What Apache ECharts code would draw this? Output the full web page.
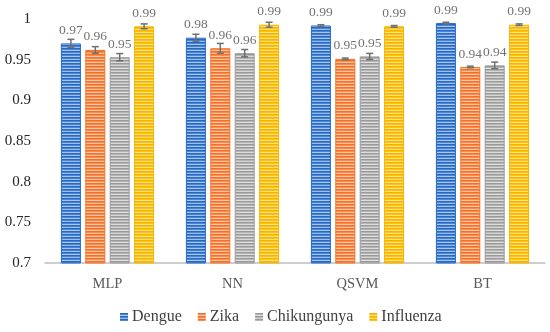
<!DOCTYPE html>
<html>
<head>
<meta charset="utf-8">
<script src="https://cdn.jsdelivr.net/npm/echarts@6/dist/echarts.min.js"></script>
<style>html,body{margin:0;padding:0;background:#fff}#c{width:550px;height:332px}</style>
</head>
<body>
<div id="c"></div>
<script>
var categories = ['MLP', 'NN', 'QSVM', 'BT'];
var seriesNames = ['Dengue', 'Zika', 'Chikungunya', 'Influenza'];
var dengue = [0.970, 0.977, 0.992, 0.995];
var zika = [0.962, 0.964, 0.951, 0.941];
var chikungunya = [0.953, 0.958, 0.954, 0.943];
var influenza = [0.991, 0.993, 0.991, 0.993];
var dengueErr = [0.005, 0.0043, 0.001, 0.001];
var zikaErr = [0.004, 0.006, 0.001, 0.001];
var chikungunyaErr = [0.0045, 0.0045, 0.0037, 0.004];
var influenzaErr = [0.003, 0.003, 0.001, 0.001];
var yTicks = [0.7, 0.75, 0.8, 0.85, 0.9, 0.95, 1];

var values = [dengue, zika, chikungunya, influenza];
var errors = [dengueErr, zikaErr, chikungunyaErr, influenzaErr];
var baseColors = ['#4a86d4', '#f88d4f', '#b5b5b5', '#ffc20e'];
var darkColors = ['#2468c8', '#f57025', '#9a9a9a', '#f5b400'];

function makePattern(base, dark) {
  var cv = document.createElement('canvas');
  cv.width = 4; cv.height = 6;
  var ctx = cv.getContext('2d');
  ctx.fillStyle = base; ctx.fillRect(0, 0, 4, 6);
  ctx.fillStyle = dark; ctx.fillRect(0, 0, 4, 1);
  ctx.fillStyle = 'rgba(255,255,255,0.55)'; ctx.fillRect(0, 2, 4, 1);
  ctx.fillStyle = dark; ctx.fillRect(0, 3, 4, 1);
  ctx.fillStyle = 'rgba(255,255,255,0.45)'; ctx.fillRect(0, 5, 4, 1);
  return { image: cv, repeat: 'repeat' };
}

var BAR_W = 20, GAP = 0.22;
var serif = '"Liberation Serif", "DejaVu Serif", serif';

var series = [];
seriesNames.forEach(function (name, i) {
  series.push({
    name: name,
    type: 'bar',
    data: values[i],
    barWidth: BAR_W,
    barGap: (GAP * 100) + '%',
    barCategoryGap: '25%',
    itemStyle: { color: makePattern(baseColors[i], darkColors[i]), borderColor: darkColors[i], borderWidth: 1 },
    label: {
      show: true, position: 'top', distance: 6,
      color: '#737373', fontFamily: serif, fontSize: 13.5,
      formatter: function (p) { return p.value.toFixed(2); }
    }
  });
});
seriesNames.forEach(function (name, i) {
  var d = values[i].map(function (v, k) { return [k, v, errors[i][k]]; });
  series.push({
    type: 'custom',
    name: name + ' err',
    z: 10,
    silent: true,
    data: d,
    renderItem: function (params, api) {
      var k = api.value(0), v = api.value(1), e = api.value(2);
      var off = (i - 1.5) * BAR_W * (1 + GAP);
      var x = api.coord([k, v])[0] + off;
      var yt = api.coord([k, v + e])[1];
      var yb = api.coord([k, v - e])[1];
      var st = { stroke: '#707070', lineWidth: 1.5 };
      return { type: 'group', children: [
        { type: 'line', shape: { x1: x, y1: yt, x2: x, y2: yb }, style: st },
        { type: 'line', shape: { x1: x - 3.5, y1: yt, x2: x + 3.5, y2: yt }, style: st },
        { type: 'line', shape: { x1: x - 3.5, y1: yb, x2: x + 3.5, y2: yb }, style: st }
      ]};
    }
  });
});

var legendIcons = baseColors.map(function (c, i) { return makePattern(c, darkColors[i]); });

var chart = echarts.init(document.getElementById('c'));
chart.setOption({
  animation: false,
  backgroundColor: '#fff',
  color: baseColors,
  grid: { left: 45, right: 5, top: 19, bottom: 69 },
  legend: {
    data: seriesNames.map(function (n, i) { return { name: n, itemStyle: { color: legendIcons[i], borderWidth: 0 } }; }),
    bottom: 2, left: 115,
    icon: 'rect', itemWidth: 8, itemHeight: 8, itemGap: 16,
    textStyle: { fontFamily: serif, fontSize: 16, color: '#404040', padding: [0, 0, 0, -1] }
  },
  xAxis: {
    type: 'category', data: categories,
    axisLine: { lineStyle: { color: '#bfbfbf', width: 1.5 } },
    axisTick: { show: false },
    axisLabel: { fontFamily: serif, fontSize: 14.5, color: '#595959', margin: 14 }
  },
  yAxis: {
    type: 'value', min: 0.7, max: 1, interval: 0.05,
    axisLine: { show: false }, axisTick: { show: false },
    splitLine: { show: false },
    axisLabel: { fontFamily: serif, fontSize: 15, color: '#262626', margin: 14,
      formatter: function (v) { var t = yTicks.filter(function (y) { return Math.abs(y - v) < 1e-9; }); return t.length ? String(t[0]) : ''; } }
  },
  series: series
});
</script>
</body>
</html>
